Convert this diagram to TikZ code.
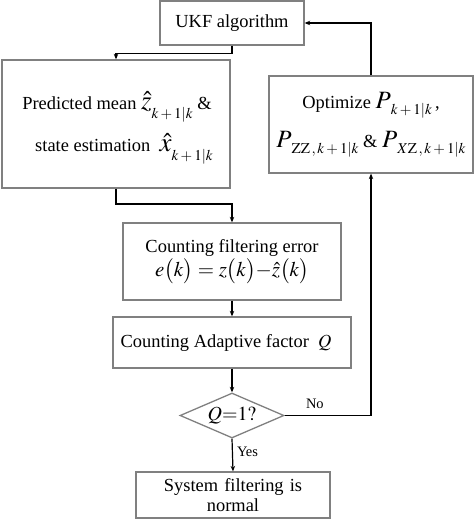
\documentclass[tikz,border=0pt]{standalone}
\usepackage{mathptmx}
\usepackage[no-math]{fontspec}
\setmainfont{Liberation Serif}
\usetikzlibrary{shapes.geometric,arrows.meta}
\newcommand\tsz{\fontsize{18.5}{22}\selectfont}
\newcommand\bighat[2]{\mbox{\fontsize{27}{27}\selectfont$\hat{#1}$}\raisebox{-9bp}{\fontsize{15}{15}\selectfont$#2$}}
\newcommand\bigP[1]{\mbox{\fontsize{25}{25}\selectfont$P$}\raisebox{-6bp}{\fontsize{15}{15}\selectfont$#1$}}
\begin{document}
\begin{tikzpicture}[x=1bp,y=-1bp,
  box/.style={draw=black!50, line width=1.3bp, rectangle, inner sep=0pt, align=center, font=\tsz},
  txt/.style={inner sep=0pt, align=center, font=\tsz},
  arr/.style={draw=black, line width=1.2bp, -{Stealth[length=5.5bp,width=4.5bp]}},
  lbl/.style={font=\fontsize{14.5}{16}\selectfont, inner sep=0pt}]
\useasboundingbox (0,0) rectangle (474,519);
\node[box, minimum width=144bp, minimum height=44bp] (ukf) at (232,23) {UKF algorithm};
\node[box, minimum width=228bp, minimum height=128bp] (pred) at (116,124) {};
\node[txt] (predtxt) at (117,128)
  {Predicted mean \bighat{z}{k+1|k} \&\\[10bp]
   \hspace*{14bp}state estimation \ \bighat{x}{k+1|k}};
\node[box, minimum width=204bp, minimum height=97bp] (opt) at (371,124.5)
  {Optimize \bigP{k+1|k}\,,\\[12bp]
   \bigP{\mathrm{ZZ}\,,k+1|k} \& \bigP{X\mathrm{Z}\,,k+1|k}};
\node[box, minimum width=218bp, minimum height=77bp] (err) at (232,261.5)
  {Counting filtering error\\[2bp]
   {\fontsize{21}{24}\selectfont$e\bigl(k\bigr)=z\bigl(k\bigr){-}\hat{z}\bigl(k\bigr)$}};
\node[box, minimum width=238bp, minimum height=51bp] (adp) at (232,342.5)
  {Counting Adaptive factor \ $Q$\hspace*{12bp}};
\node[box, shape=diamond, aspect=2.3, minimum width=104bp, minimum height=45bp, font=\fontsize{20}{22}\selectfont] (dia) at (232,415.5)
  {$Q{=}1?$};
\node[box, minimum width=194bp, minimum height=46bp, text width=190bp, font=\fontsize{18.5}{20}\selectfont] (sys) at (233,495)
  {System filtering is\\ normal};
% connectors
\draw[arr] (ukf.south) -- ++(0,8) -| (pred.north);
\coordinate (c1) at (116,204);
\draw[arr] (pred.south) -- (c1) -| (err.north);
\draw[arr] (err.south) -- (adp.north);
\draw[arr] (adp.south) -- (dia.north);
\draw[arr] (dia.south) -- node[lbl, right=4bp, pos=0.4] (yes) {Yes} (sys.north);
\draw[arr] (dia.east) -- node[lbl, above=6bp, pos=0.35] (no) {No} (dia.east -| opt.south) -- (opt.south);
\draw[arr] (opt.north) |- (ukf.east);
\end{tikzpicture}
\end{document}
